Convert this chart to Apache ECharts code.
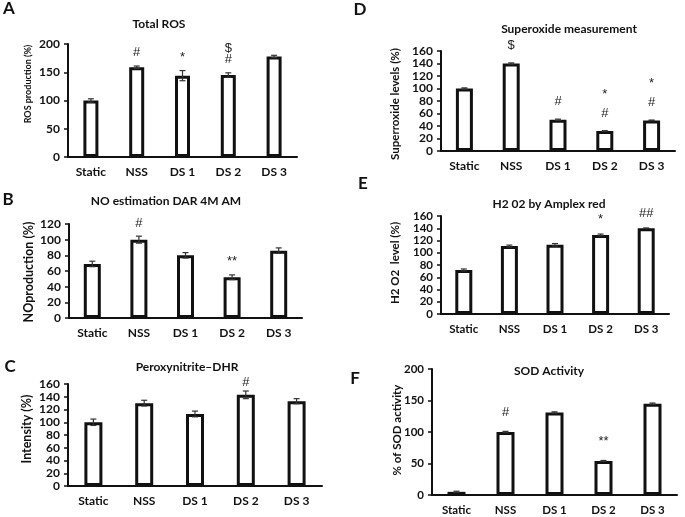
<!DOCTYPE html>
<html>
<head>
<meta charset="utf-8">
<script src="https://cdn.jsdelivr.net/npm/echarts@6/dist/echarts.min.js"></script>
<style>
html,body{margin:0;padding:0;background:#fff;}
#chart{width:685px;height:517px;}
</style>
</head>
<body>
<div id="chart"></div>
<script>
const categories = ['Static', 'NSS', 'DS 1', 'DS 2', 'DS 3'];

const rosValues = [100, 159, 144, 145, 178];
const rosErrors = [3, 2, 9, 4, 2];
const rosMarks = ['', '#', '*', '$\n#', ''];

const noValues = [69, 100, 80, 52, 86];
const noErrors = [3.5, 4.5, 3.5, 3, 3.5];
const noMarks = ['', '#', '', '**', ''];

const dhrValues = [100, 130, 113, 143, 133];
const dhrErrors = [5, 4.5, 4.5, 6, 4];
const dhrMarks = ['', '', '', '#', ''];

const superoxideValues = [100, 140, 50, 32, 49];
const superoxideErrors = [1, 1, 1, 0.5, 0.5];
const superoxideMarks = ['', '$', '#', '*\n#', '*\n#'];

const h2o2Values = [72, 111, 113, 129, 140];
const h2o2Errors = [1.5, 1.5, 2, 1.5, 0.5];
const h2o2Marks = ['', '', '', '*', '##'];

const sodValues = [5, 100, 131, 54, 145];
const sodErrors = [1, 1, 1, 0.8, 1];
const sodMarks = ['', '#', '', '**', ''];

const FONT = 'Lato';
const INK = '#111';

const panels = [
  {letter:'A', title:'Total ROS', yName:'ROS production (%)', values:rosValues, errors:rosErrors, marks:rosMarks,
   max:200, interval:50, grid:{left:68, top:44, width:229, height:113}, titlePos:[159,24], letterPos:[9,9],
   yNamePos:[28,84], yNameSize:9, barWidth:15, markGap:8, markLine:11, tickSize:12},
  {letter:'B', title:'NO estimation DAR 4M AM', yName:'NOproduction (%)', values:noValues, errors:noErrors, marks:noMarks,
   max:120, interval:20, grid:{left:69, top:224, width:233, height:94}, titlePos:[166,201], letterPos:[8,200],
   yNamePos:[29,272], yNameSize:12.5, barWidth:17, markGap:7, markLine:12, tickSize:12},
  {letter:'C', title:'Peroxynitrite\u2013DHR', yName:'Intensity (%)', values:dhrValues, errors:dhrErrors, marks:dhrMarks,
   max:160, interval:20, grid:{left:68, top:384, width:254, height:102}, titlePos:[187,367], letterPos:[10,367],
   yNamePos:[27,429], yNameSize:12.5, barWidth:18, markGap:3, markLine:12, tickSize:12},
  {letter:'D', title:'Superoxide measurement', yName:'Superroxide levels (%)', values:superoxideValues, errors:superoxideErrors, marks:superoxideMarks,
   max:160, interval:20, grid:{left:441, top:51, width:234, height:100}, titlePos:[569,29], letterPos:[360,10],
   yNamePos:[395,104], yNameSize:11.5, barWidth:17, markGap:8, markLine:19, tickSize:12},
  {letter:'E', title:'H2 02 by Amplex red', yName:'H2 O2  level (%)', values:h2o2Values, errors:h2o2Errors, marks:h2o2Marks,
   max:160, interval:20, grid:{left:441, top:216, width:228, height:98}, titlePos:[549,204], letterPos:[363,184],
   yNamePos:[395,263], yNameSize:11.5, barWidth:17, markGap:9, markLine:12, tickSize:11.5},
  {letter:'F', title:'SOD Activity', yName:'% of SOD activity', values:sodValues, errors:sodErrors, marks:sodMarks,
   max:200, interval:50, grid:{left:432, top:369, width:245, height:126}, titlePos:[549,371], letterPos:[355,379],
   yNamePos:[397,430], yNameSize:11.5, barWidth:18, markGap:13, markLine:12, tickSize:11.5}
];

const grids = [], xAxes = [], yAxes = [], series = [], graphics = [];

panels.forEach((p, k) => {
  grids.push(Object.assign({containLabel:false}, p.grid));
  xAxes.push({
    type:'category', gridIndex:k, data:categories,
    axisLine:{lineStyle:{color:INK, width:2}},
    axisTick:{show:false},
    axisLabel:{color:INK, fontFamily:FONT, fontWeight:'bold', fontSize:p.tickSize, margin:9}
  });
  yAxes.push({
    type:'value', gridIndex:k, min:0, max:p.max, interval:p.interval,
    axisLine:{show:true, lineStyle:{color:INK, width:2}},
    axisTick:{show:true, length:4, lineStyle:{color:INK, width:1.5}},
    splitLine:{show:false},
    axisLabel:{color:INK, fontFamily:FONT, fontWeight:'bold', fontSize:p.tickSize, margin:8}
  });
  series.push({
    type:'bar', xAxisIndex:k, yAxisIndex:k, data:p.values, barWidth:p.barWidth,
    itemStyle:{color:'#fff', borderColor:INK, borderWidth:3},
    silent:true, animation:false
  });
  series.push({
    type:'custom', xAxisIndex:k, yAxisIndex:k, z:5, animation:false, silent:true,
    data:p.values.map((v, i) => [i, v, p.errors[i]]),
    encode:{x:0, y:1},
    renderItem:(params, api) => {
      const i = api.value(0), v = api.value(1), e = api.value(2);
      const hi = api.coord([i, v + e]);
      const lo = api.coord([i, v - e]);
      const w = 3;
      const st = {stroke:'#333', lineWidth:1.2};
      return {type:'group', children:[
        {type:'line', shape:{x1:hi[0], y1:hi[1], x2:lo[0], y2:lo[1]}, style:st},
        {type:'line', shape:{x1:hi[0]-w, y1:hi[1], x2:hi[0]+w, y2:hi[1]}, style:st},
        {type:'line', shape:{x1:lo[0]-w, y1:lo[1], x2:lo[0]+w, y2:lo[1]}, style:st}
      ]};
    }
  });
  series.push({
    type:'custom', xAxisIndex:k, yAxisIndex:k, z:6, animation:false, silent:true,
    data:p.values.map((v, i) => [i, v + p.errors[i]]),
    encode:{x:0, y:1},
    renderItem:(params, api) => {
      const i = params.dataIndex;
      const text = p.marks[i];
      if (!text) return null;
      const pt = api.coord([api.value(0), api.value(1)]);
      return {type:'text', x:pt[0], y:pt[1] - p.markGap, style:{
        text:text, textAlign:'center', textVerticalAlign:'bottom',
        fontFamily:'Liberation Sans', fontSize:13, lineHeight:p.markLine, fill:'#222'
      }};
    }
  });
  graphics.push({type:'text', x:p.titlePos[0], y:p.titlePos[1], silent:true, style:{
    text:p.title, textAlign:'center', textVerticalAlign:'middle',
    fontFamily:FONT, fontWeight:'bold', fontSize:12, fill:INK
  }});
  graphics.push({type:'text', x:p.letterPos[0], y:p.letterPos[1], silent:true, style:{
    text:p.letter, textAlign:'center', textVerticalAlign:'middle',
    fontFamily:FONT, fontWeight:'bold', fontSize:17, fill:INK
  }});
  graphics.push({type:'text', x:p.yNamePos[0], y:p.yNamePos[1], rotation:Math.PI/2, silent:true, style:{
    text:p.yName, textAlign:'center', textVerticalAlign:'middle',
    fontFamily:FONT, fontWeight:'bold', fontSize:p.yNameSize, fill:INK
  }});
});

const chart = echarts.init(document.getElementById('chart'), null, {renderer:'canvas'});
chart.setOption({
  backgroundColor:'#fff',
  animation:false,
  grid:grids, xAxis:xAxes, yAxis:yAxes, series:series, graphic:graphics
});
</script>
</body>
</html>
